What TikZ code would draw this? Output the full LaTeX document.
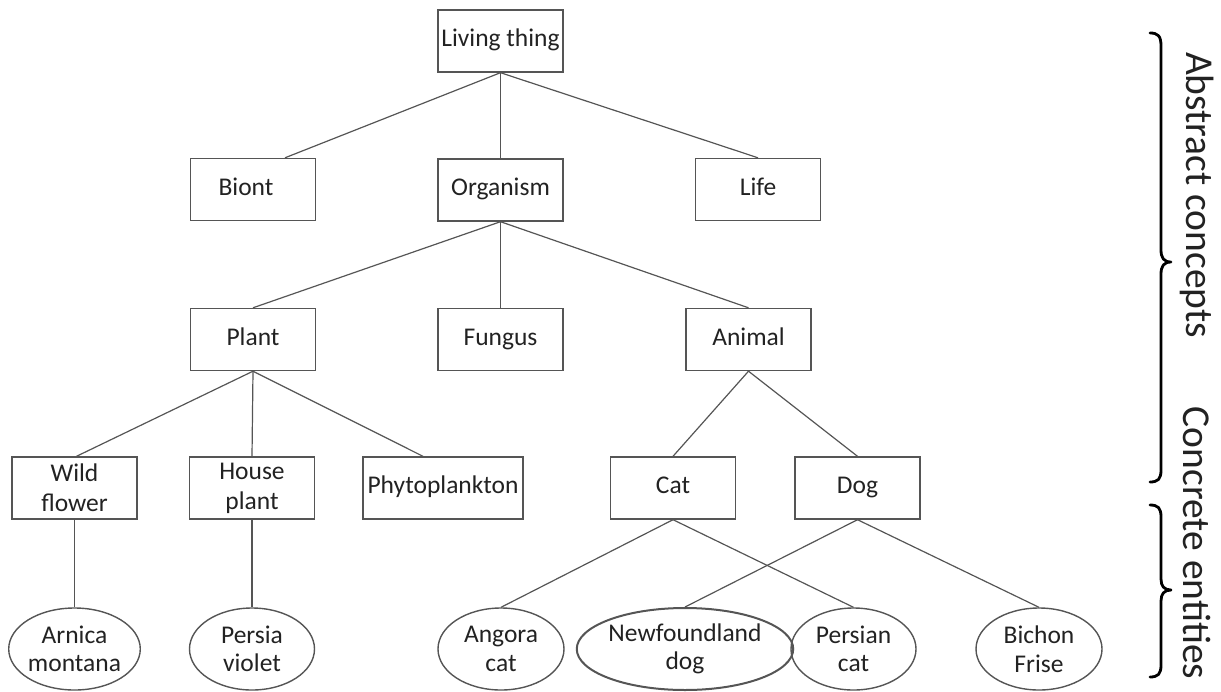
\documentclass[tikz,border=0pt]{standalone}
\usepackage{fontspec}
\setmainfont{Carlito}
\usetikzlibrary{shapes.geometric,calc}
\definecolor{edgegray}{HTML}{555555}
\definecolor{txtgray}{HTML}{222222}
\begin{document}
\begin{tikzpicture}[x=1pt,y=-1pt,
  box/.style={draw=edgegray,line width=1.4pt,rectangle,minimum width=125pt,minimum height=62pt,inner sep=0pt,
    font=\fontsize{25.5}{30}\selectfont,text=txtgray,align=center},
  one/.style={text height=17pt,text depth=6pt},
  oval/.style={draw=edgegray,line width=1.4pt,ellipse,minimum width=125pt,minimum height=82pt,inner sep=0pt,
    font=\fontsize{25.5}{28.5}\selectfont,text=txtgray,align=center},
  link/.style={draw=edgegray,line width=1.2pt},
  bracepath/.style={draw=black,line width=2.8pt,line cap=round,line join=round},
  side/.style={font=\fontsize{39.5}{41}\selectfont,text=txtgray,rotate=-90,inner sep=0pt}]
\useasboundingbox (0,0) rectangle (1221,691);
% level 0
\node[box,one] (living) at (500.5,41) {Living thing};
% level 1
\node[box,one] (biont) at (253,189.5) {\hspace*{-14pt}Biont};
\node[box,one] (organism) at (500.5,190) {Organism};
\node[box,one] (life) at (758,189.5) {Life};
% level 2
\node[box,one] (plant) at (253,339.5) {Plant};
\node[box,one] (fungus) at (500.5,339.5) {Fungus};
\node[box,one] (animal) at (748.5,339.5) {Animal};
% level 3
\node[box] (wild) at (74.5,488) {Wild\\flower};
\node[box] (house) at (252,488) {House\\plant};
\node[box,one,minimum width=160pt] (phyto) at (443,488) {Phytoplankton};
\node[box,one] (cat) at (673,488) {Cat};
\node[box,one] (dog) at (857.5,488) {Dog};
% level 4
\node[oval] (arnica) at (74.5,649) {Arnica\\montana};
\node[oval] (persia) at (252,649) {Persia\\violet};
\node[oval,minimum width=126pt] (angora) at (501,649) {Angora\\cat};
\node[oval,minimum width=206pt,line width=2pt] (newf) at (685,649) {Newfoundland\\dog};
\node[oval] (persian) at (853.5,649) {Persian\\cat};
\node[oval,minimum width=126pt] (bichon) at (1039,649) {Bichon\\Frise};
% connectors
\draw[link] (living.south) -- ($(biont.north)+(32,0)$);
\draw[link] (living.south) -- (organism.north);
\draw[link] (living.south) -- (life.north);
\draw[link] (organism.south) -- (plant.north);
\draw[link] (organism.south) -- (fungus.north);
\draw[link] (organism.south) -- (animal.north);
\draw[link] (plant.south) -- ($(wild.north)+(2,0)$);
\draw[link] (plant.south) -- (house.north);
\draw[link] (plant.south) -- ($(phyto.north)+(-20,0)$);
\draw[link] (animal.south) -- (cat.north);
\draw[link] (animal.south) -- (dog.north);
\draw[link] (wild.south) -- (arnica.north);
\draw[link] (house.south) -- (persia.north);
\draw[link] (cat.south) -- (angora.north);
\draw[link] (cat.south) -- (persian.north);
\draw[link] (dog.south) -- (newf.north);
\draw[link] (dog.south) -- (bichon.north);
% braces
\coordinate (b1top) at (1150,33);
\coordinate (b1tip) at (1171,262);
\coordinate (b1bot) at (1150,482);
\draw[bracepath] (b1top) .. controls (1158,33) and (1161,36) .. (1161,46) -- (1161,250)
  .. controls (1161,258) and (1164,262) .. (b1tip)
  .. controls (1164,262) and (1161,266) .. (1161,274) -- (1161,470)
  .. controls (1161,479) and (1158,482) .. (b1bot);
\coordinate (b2top) at (1150,505);
\coordinate (b2tip) at (1171,590);
\coordinate (b2bot) at (1150,677);
\draw[bracepath] (b2top) .. controls (1158,505) and (1161,508) .. (1161,517) -- (1161,579)
  .. controls (1161,586) and (1164,590) .. (b2tip)
  .. controls (1164,590) and (1161,594) .. (1161,601) -- (1161,665)
  .. controls (1161,674) and (1158,677) .. (b2bot);
\node[side] (abstract) at (1197,195) {Abstract concepts};
\node[side] (concrete) at (1197,543) {Concrete entities};
\end{tikzpicture}
\end{document}
